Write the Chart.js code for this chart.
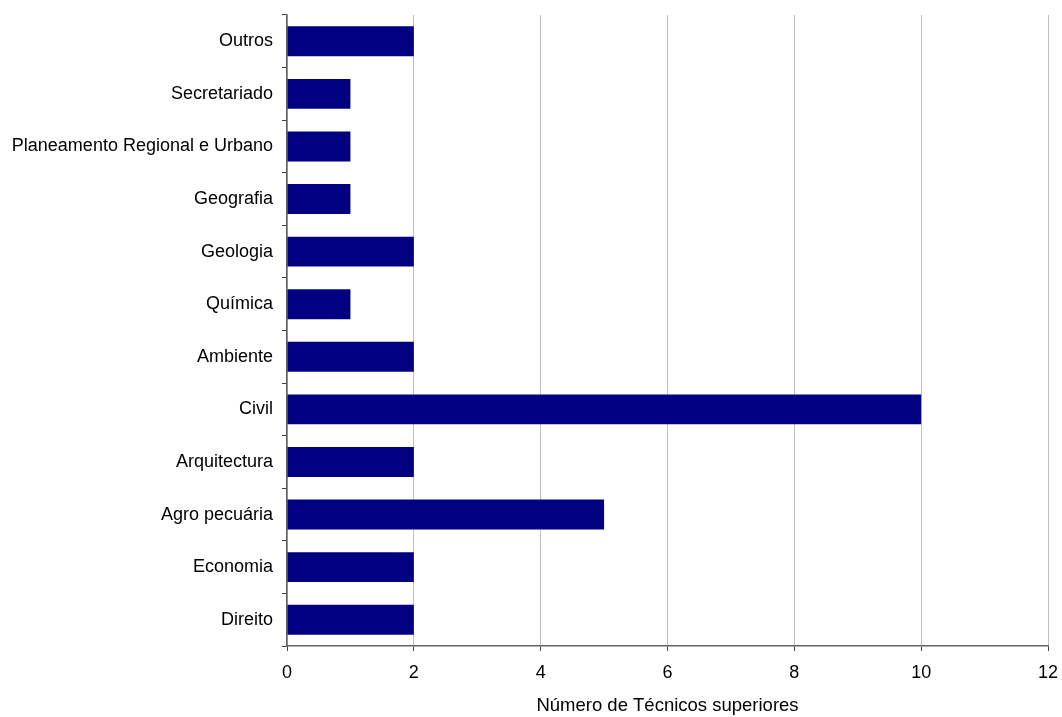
<!DOCTYPE html>
<html>
<head>
<meta charset="utf-8">
<script src="https://cdn.jsdelivr.net/npm/chart.js@4/dist/chart.umd.min.js"></script>
<style>
html,body{margin:0;padding:0;background:#fff;}
#wrap{width:1062px;height:717px;position:relative;}
</style>
</head>
<body>
<div id="wrap"><canvas id="c" width="1062" height="717"></canvas></div>
<script>
const categories = ["Outros","Secretariado","Planeamento Regional e Urbano","Geografia","Geologia","Química","Ambiente","Civil","Arquitectura","Agro pecuária","Economia","Direito"];
const values = [2,1,1,1,2,1,2,10,2,5,2,2];
const xTicks = [0,2,4,6,8,10,12];
const xTitle = "Número de Técnicos superiores";

Chart.defaults.font.family = "'Liberation Sans', Arial, sans-serif";
Chart.defaults.font.size = 18;
Chart.defaults.color = "#000";

new Chart(document.getElementById('c'), {
  type: 'bar',
  data: {
    labels: categories,
    datasets: [{
      data: values,
      backgroundColor: '#000080',
      borderWidth: 0,
      barPercentage: 0.57,
      categoryPercentage: 1.0
    }]
  },
  options: {
    indexAxis: 'y',
    responsive: false,
    animation: false,
    devicePixelRatio: 1,
    layout: { padding: { top: 15, right: 14, left: 0, bottom: 0 } },
    plugins: { legend: { display: false }, tooltip: { enabled: false } },
    scales: {
      x: {
        min: xTicks[0],
        max: xTicks[xTicks.length - 1],
        afterBuildTicks: (s) => { s.ticks = xTicks.map(v => ({ value: v })); },
        afterFit: (s) => { s.height = 71; s.paddingRight = 0; s.paddingLeft = 0; },
        grid: { color: '#c0c0c0', tickColor: '#404040', tickLength: 5, drawTicks: true },
        border: { color: '#606060', width: 1.5 },
        ticks: { padding: 11, font: { size: 18 } },
        title: { display: true, text: xTitle, font: { size: 18.5 }, padding: { top: 6, bottom: 0 } }
      },
      y: {
        afterFit: (s) => { s.width = 287; s.paddingTop = 0; s.paddingBottom = 0; },
        grid: { display: true, offset: true, drawOnChartArea: false, tickColor: '#404040', tickLength: 5 },
        border: { color: '#606060', width: 1.5 },
        ticks: { padding: 9, font: { size: 18 } }
      }
    }
  }
});
</script>
</body>
</html>
